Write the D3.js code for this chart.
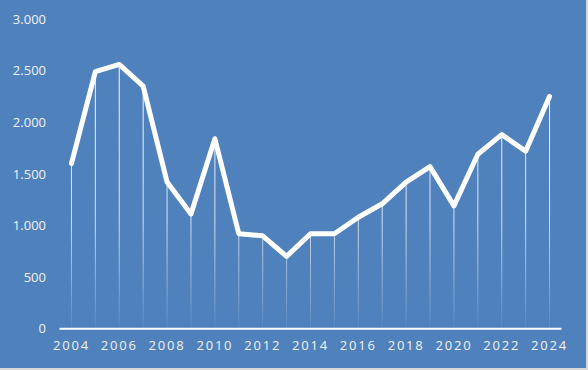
<!DOCTYPE html>
<html>
<head>
<meta charset="utf-8">
<script src="https://cdn.jsdelivr.net/npm/d3@7"></script>
<style>
  html, body { margin: 0; padding: 0; background: #ffffff; }
  svg { display: block; }
</style>
</head>
<body>
<svg id="chart" width="588" height="370"></svg>
<script>
const years = [2004, 2005, 2006, 2007, 2008, 2009, 2010, 2011, 2012, 2013, 2014,
               2015, 2016, 2017, 2018, 2019, 2020, 2021, 2022, 2023, 2024];
const values = [1600, 2490, 2560, 2350, 1420, 1110, 1840, 920, 900, 700, 920,
                920, 1080, 1210, 1420, 1570, 1190, 1690, 1880, 1720, 2250];
const yTicks = [0, 500, 1000, 1500, 2000, 2500, 3000];
const xTickLabels = [2004, 2006, 2008, 2010, 2012, 2014, 2016, 2018, 2020, 2022, 2024];

const W = 588, H = 370;
const svg = d3.select("#chart");

svg.append("rect").attr("x", 0).attr("y", 0).attr("width", W).attr("height", H).attr("fill", "#d9d9d9");
svg.append("rect").attr("x", 0).attr("y", 0).attr("width", 586).attr("height", 368).attr("fill", "#4f81bd");

const defs = svg.append("defs");
const grad = defs.append("linearGradient").attr("id", "dropGrad")
  .attr("gradientUnits", "userSpaceOnUse")
  .attr("x1", 0).attr("x2", 0).attr("y1", 60).attr("y2", 329);
grad.append("stop").attr("offset", "0%").attr("stop-color", "#ffffff").attr("stop-opacity", 1);
grad.append("stop").attr("offset", "60%").attr("stop-color", "#ffffff").attr("stop-opacity", 0.75);
grad.append("stop").attr("offset", "100%").attr("stop-color", "#ffffff").attr("stop-opacity", 0.05);

const x = d3.scaleBand().domain(years).range([59.5, 561.5]);
const y = d3.scaleLinear().domain([0, 3000]).range([328.7, 19]);
const cx = d => x(d) + x.bandwidth() / 2;

// drop lines
svg.append("g").selectAll("line").data(years).join("line")
  .attr("x1", d => cx(d)).attr("x2", d => cx(d))
  .attr("y1", (d, i) => y(values[i])).attr("y2", y(0))
  .attr("stroke", "url(#dropGrad)").attr("stroke-width", 1);

// axis baseline
svg.append("line").attr("x1", 59.5).attr("x2", 561.5)
  .attr("y1", y(0)).attr("y2", y(0))
  .attr("stroke", "#ffffff").attr("stroke-width", 2);

// line
const line = d3.line().x((d, i) => cx(years[i])).y(d => y(d));
svg.append("path").datum(values)
  .attr("d", line)
  .attr("fill", "none").attr("stroke", "#ffffff")
  .attr("stroke-width", 5).attr("stroke-linejoin", "round").attr("stroke-linecap", "round");

// y axis
const yAxis = d3.axisLeft(y).tickValues(yTicks).tickSize(0).tickPadding(0)
  .tickFormat(d => d3.format(",")(d).replace(/,/g, "."));
const gy = svg.append("g").attr("transform", "translate(46,0)").call(yAxis);
gy.select(".domain").remove();
gy.selectAll("text").attr("fill", "#f2f2f2")
  .style("font-family", "'Open Sans', 'DejaVu Sans', sans-serif").style("font-size", "13px");

// x axis
const xAxis = d3.axisBottom(x).tickValues(xTickLabels).tickSize(0).tickPadding(0);
const gx = svg.append("g").attr("transform", "translate(0,341)").call(xAxis);
gx.select(".domain").remove();
gx.selectAll("text").attr("fill", "#f2f2f2")
  .style("font-family", "'Open Sans', 'DejaVu Sans', sans-serif").style("font-size", "13px")
  .style("letter-spacing", "1.8px");
</script>
</body>
</html>
